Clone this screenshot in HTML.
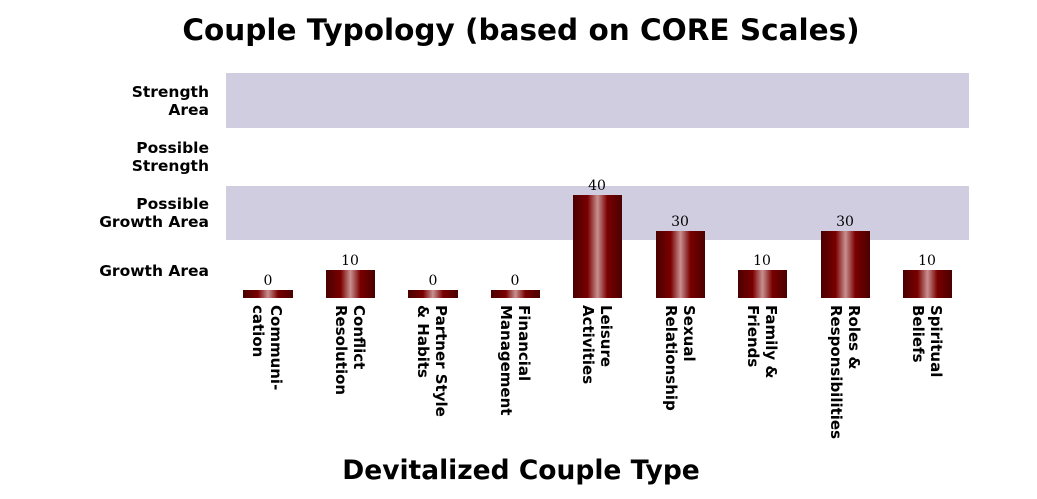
<!DOCTYPE html>
<html><head><meta charset="utf-8"><style>
html,body{margin:0;padding:0;background:#fff}
svg{display:block}
.b{font-family:"DejaVu Sans",sans-serif;font-weight:bold;fill:#000}
.v{font-family:"DejaVu Serif","Liberation Serif",serif;font-weight:normal;fill:#000}
</style></head><body>
<svg width="1037" height="499" viewBox="0 0 1037 499" xmlns="http://www.w3.org/2000/svg">
<defs>
<linearGradient id="g" x1="0" x2="1" y1="0" y2="0">
<stop offset="0" stop-color="#4a0000"/>
<stop offset="0.3" stop-color="#7a0000"/>
<stop offset="0.5" stop-color="#c89090"/>
<stop offset="0.7" stop-color="#7a0000"/>
<stop offset="1" stop-color="#4a0000"/>
</linearGradient>
</defs>
<text class="b" x="521" y="40" font-size="29.5" text-anchor="middle">Couple Typology (based on CORE Scales)</text>
<rect x="226" y="73" width="743" height="55" fill="#d1cde0"/>
<rect x="226" y="186" width="743" height="54" fill="#d1cde0"/>
<g class="b" font-size="15.5" text-anchor="end">
<text x="209" y="97">Strength</text><text x="209" y="115">Area</text>
<text x="209" y="153">Possible</text><text x="209" y="171">Strength</text>
<text x="209" y="209">Possible</text><text x="209" y="227">Growth Area</text>
<text x="209" y="276">Growth Area</text>
</g>
<g fill="url(#g)">
<rect x="243" y="290" width="50" height="8"/>
<rect x="326" y="270" width="49" height="28"/>
<rect x="408" y="290" width="50" height="8"/>
<rect x="491" y="290" width="49" height="8"/>
<rect x="573" y="195" width="49" height="103"/>
<rect x="656" y="231" width="49" height="67"/>
<rect x="738" y="270" width="49" height="28"/>
<rect x="821" y="231" width="49" height="67"/>
<rect x="903" y="270" width="49" height="28"/>
</g>
<g class="v" font-size="14" text-anchor="middle">
<text x="268" y="285">0</text>
<text x="350" y="265">10</text>
<text x="433" y="285">0</text>
<text x="515" y="285">0</text>
<text x="597" y="190">40</text>
<text x="680" y="226">30</text>
<text x="762" y="265">10</text>
<text x="845" y="226">30</text>
<text x="927" y="265">10</text>
</g>
<g class="b" font-size="15">
<text transform="translate(271,305) rotate(90)"><tspan x="0" y="0">Communi-</tspan><tspan x="0" y="18">cation</tspan></text>
<text transform="translate(354,305) rotate(90)"><tspan x="0" y="0">Conflict</tspan><tspan x="0" y="18">Resolution</tspan></text>
<text transform="translate(436,305) rotate(90)"><tspan x="0" y="0">Partner Style</tspan><tspan x="0" y="18">&amp; Habits</tspan></text>
<text transform="translate(519,305) rotate(90)"><tspan x="0" y="0">Financial</tspan><tspan x="0" y="18">Management</tspan></text>
<text transform="translate(601,305) rotate(90)"><tspan x="0" y="0">Leisure</tspan><tspan x="0" y="18">Activities</tspan></text>
<text transform="translate(684,305) rotate(90)"><tspan x="0" y="0">Sexual</tspan><tspan x="0" y="18">Relationship</tspan></text>
<text transform="translate(766,305) rotate(90)"><tspan x="0" y="0">Family &amp;</tspan><tspan x="0" y="18">Friends</tspan></text>
<text transform="translate(849,305) rotate(90)"><tspan x="0" y="0">Roles &amp;</tspan><tspan x="0" y="18">Responsibilities</tspan></text>
<text transform="translate(931,305) rotate(90)"><tspan x="0" y="0">Spiritual</tspan><tspan x="0" y="18">Beliefs</tspan></text>
</g>
<text class="b" x="521" y="479" font-size="26.5" text-anchor="middle">Devitalized Couple Type</text>
</svg>
</body></html>
